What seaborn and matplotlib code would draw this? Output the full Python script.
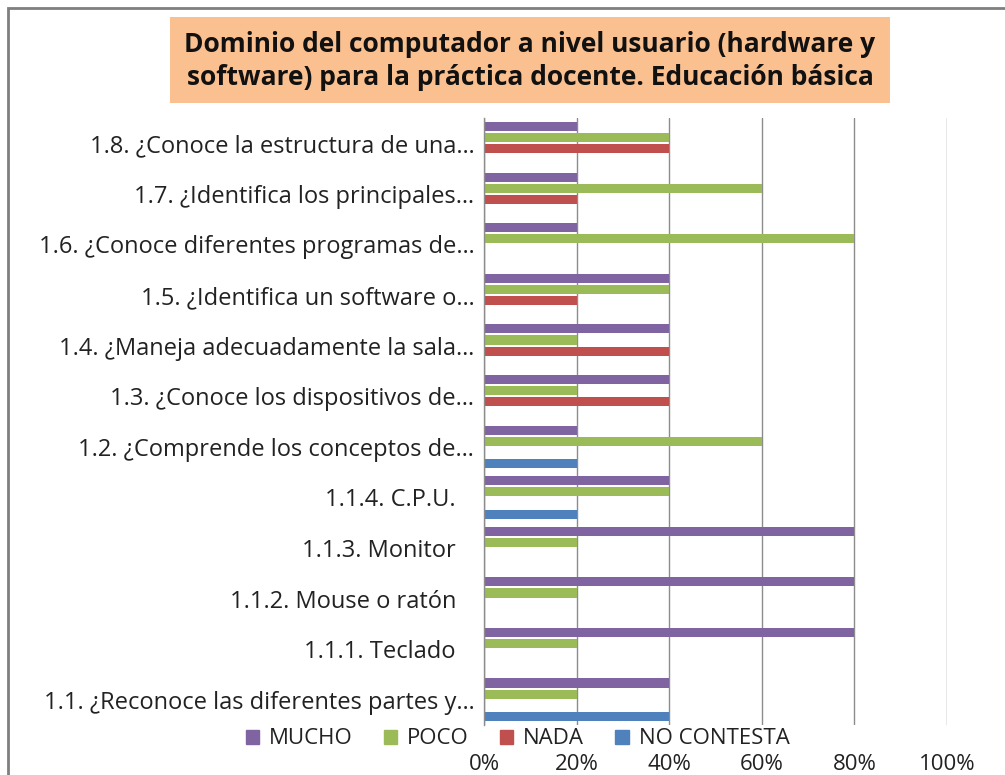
import pandas as pd
import matplotlib.pyplot as plt
import matplotlib.patches as mpatches
import seaborn as sns
from matplotlib.ticker import PercentFormatter

# Data
categories = [
    "1.8. ¿Conoce la estructura de una…",
    "1.7. ¿Identifica los principales…",
    "1.6. ¿Conoce diferentes programas de…",
    "1.5. ¿Identifica un software o…",
    "1.4. ¿Maneja adecuadamente la sala…",
    "1.3. ¿Conoce los dispositivos de…",
    "1.2. ¿Comprende los conceptos de…",
    "1.1.4. C.P.U.   ",
    "1.1.3. Monitor   ",
    "1.1.2. Mouse o ratón   ",
    "1.1.1. Teclado   ",
    "1.1. ¿Reconoce las diferentes partes y…",
]
series = ["MUCHO", "POCO", "NADA", "NO CONTESTA"]
mucho = [0.2, 0.2, 0.2, 0.4, 0.4, 0.4, 0.2, 0.4, 0.8, 0.8, 0.8, 0.4]
poco = [0.4, 0.6, 0.8, 0.4, 0.2, 0.2, 0.6, 0.4, 0.2, 0.2, 0.2, 0.2]
nada = [0.4, 0.2, 0.0, 0.2, 0.4, 0.4, 0.0, 0.0, 0.0, 0.0, 0.0, 0.0]
no_contesta = [0.0, 0.0, 0.0, 0.0, 0.0, 0.0, 0.2, 0.2, 0.0, 0.0, 0.0, 0.4]
colors = ["#8064A2", "#9BBB59", "#C0504D", "#4F81BD"]

rows = []
for name, vals in zip(series, [mucho, poco, nada, no_contesta]):
    for cat, v in zip(categories, vals):
        rows.append({"pregunta": cat, "respuesta": name, "valor": v})
df = pd.DataFrame(rows)

sns.set_style("white")
plt.rcParams["font.family"] = ["Open Sans", "DejaVu Sans"]

fig = plt.figure(figsize=(10.05, 7.75), dpi=100)
ax = fig.add_axes([484 / 1005, 1 - 725 / 775, 463 / 1005, 607 / 775])

sns.barplot(data=df, x="valor", y="pregunta", hue="respuesta",
            order=categories, hue_order=series, palette=colors,
            orient="h", width=0.88, gap=0.18, saturation=1,
            edgecolor="none", ax=ax)

ax.set_xlim(0, 1)
ax.set_xticks([0, 0.2, 0.4, 0.6, 0.8, 1.0])
ax.xaxis.set_major_formatter(PercentFormatter(1.0, decimals=0))
ax.grid(axis="x", color="#8c8c8c", linewidth=1)
ax.set_axisbelow(True)
ax.set_xlabel("")
ax.set_ylabel("")
for s in ["top", "right", "bottom"]:
    ax.spines[s].set_visible(False)
ax.spines["left"].set_color("#8c8c8c")
ax.spines["left"].set_linewidth(1)
ax.tick_params(axis="x", length=0, pad=21, labelsize=16, colors="#222222")
ax.tick_params(axis="y", length=0, pad=7, labelsize=17, colors="#222222")

# legend below the plot
ax.get_legend().remove()
handles = [mpatches.Patch(color=c, label=s) for c, s in zip(colors, series)]
fig.legend(handles=handles, loc="center", bbox_to_anchor=(0.515, 1 - 739 / 775),
           ncol=4, frameon=False, fontsize=16, handlelength=0.6, handleheight=0.6,
           handletextpad=0.45, columnspacing=1.4, labelcolor="#222222",
           borderpad=0)

# title box
fig.patches.append(mpatches.Rectangle((170 / 1005, 1 - 103 / 775), 720 / 1005, 86 / 775,
                                      transform=fig.transFigure, facecolor="#FAC090",
                                      edgecolor="none", zorder=0))
fig.text(530 / 1005, 1 - 61 / 775,
         "Dominio del computador a nivel usuario (hardware y\nsoftware) para la práctica docente. Educación básica",
         ha="center", va="center", fontsize=19, fontweight="bold", linespacing=1.3,
         color="#111111")

# chart area border
fig.patches.append(mpatches.Rectangle((8 / 1005, -0.1), 1.2, 1 - 8 / 775 + 0.1,
                                      transform=fig.transFigure, facecolor="none",
                                      edgecolor="#7f7f7f", linewidth=2, zorder=0))

plt.savefig("out.png", dpi=100)
